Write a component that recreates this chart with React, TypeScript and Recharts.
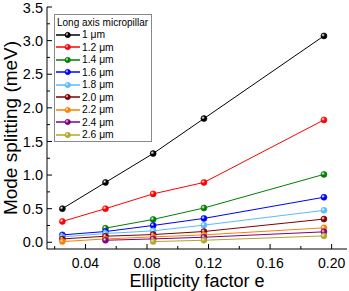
import { LineChart, Line, XAxis, YAxis, Legend } from 'recharts';

const ellipticity = [0.025, 0.053, 0.084, 0.117, 0.195];

const pillar10 = [0.5, 0.89, 1.32, 1.84, 3.07];
const pillar12 = [0.31, 0.5, 0.72, 0.89, 1.82];
const pillar14 = [null, 0.21, 0.34, 0.51, 1.01];
const pillar16 = [0.11, 0.16, 0.25, 0.355, 0.67];
const pillar18 = [0.08, 0.13, 0.17, 0.255, 0.475];
const pillar20 = [0.05, 0.09, 0.115, 0.16, 0.345];
const pillar22 = [0.01, 0.05, 0.08, 0.11, 0.215];
const pillar24 = [null, 0.03, 0.05, 0.075, 0.155];
const pillar26 = [null, null, 0.01, 0.03, 0.095];

const seriesNames = ['1 μm', '1.2 μm', '1.4 μm', '1.6 μm', '1.8 μm', '2.0 μm', '2.2 μm', '2.4 μm', '2.6 μm'];
const seriesColors = ['#000000', '#ff0000', '#008000', '#0000ff', '#5abaff', '#800000', '#ff8000', '#800080', '#b3a62a'];

const xTicks = [0.02, 0.04, 0.06, 0.08, 0.1, 0.12, 0.14, 0.16, 0.18, 0.2];
const yTicks = [0, 0.25, 0.5, 0.75, 1, 1.25, 1.5, 1.75, 2, 2.25, 2.5, 2.75, 3, 3.25, 3.5];

const allSeries = [pillar10, pillar12, pillar14, pillar16, pillar18, pillar20, pillar22, pillar24, pillar26];

const rows = ellipticity.map((e, i) => {
  const row: Record<string, number | null> = { e };
  allSeries.forEach((s, k) => {
    row[`s${k}`] = s[i];
  });
  return row;
});

const FONT = '"Liberation Sans", Arial, sans-serif';

const isMajor = (v: number, step: number) => Math.abs(v / step - Math.round(v / step)) < 1e-6;

const BottomTick = (props: any) => {
  const { x, y, payload } = props;
  const axisY = y - 8;
  const major = isMajor(payload.value, 0.04);
  return (
    <g>
      <line x1={x} x2={x} y1={axisY} y2={axisY - (major ? 5 : 3)} stroke="#000" />
      {major && (
        <text x={x} y={axisY + 19} textAnchor="middle" fontSize={14} fontFamily={FONT} fill="#000">
          {payload.value.toFixed(2)}
        </text>
      )}
    </g>
  );
};

const TopTick = (props: any) => {
  const { x, y, payload } = props;
  const major = isMajor(payload.value, 0.04);
  return <line x1={x} x2={x} y1={y} y2={y + (major ? 5 : 3)} stroke="#000" />;
};

const LeftTick = (props: any) => {
  const { x, y, payload } = props;
  const axisX = x + 4;
  const major = isMajor(payload.value, 0.5);
  // the top label sits right at the frame edge, nudge it down a touch
  const shift = payload.value >= 3.5 ? 1 : 0;
  return (
    <g>
      <line x1={axisX} x2={axisX + (major ? 5 : 3)} y1={y} y2={y} stroke="#000" />
      {major && (
        <text x={x} y={y + shift} dy="0.36em" textAnchor="end" fontSize={14.5} fontFamily={FONT} fill="#000">
          {payload.value.toFixed(1)}
        </text>
      )}
    </g>
  );
};

const RightTick = (props: any) => {
  const { x, y, payload } = props;
  const major = isMajor(payload.value, 0.5);
  return <line x1={x} x2={x - (major ? 5 : 3)} y1={y} y2={y} stroke="#000" />;
};

const makeDot = (k: number) => (props: any) => {
  const { cx, cy, index } = props;
  if (cx == null || cy == null || props.value == null) return <g key={`d${k}-${index}`} />;
  return (
    <circle
      key={`d${k}-${index}`}
      cx={cx}
      cy={cy}
      r={3}
      fill={`url(#ball${k})`}
      stroke={seriesColors[k]}
      strokeWidth={0.6}
    />
  );
};

const LegendBox = () => (
  <div
    style={{
      position: 'relative',
      width: 98,
      height: 128,
      boxSizing: 'border-box',
      border: '1px solid #8a8a8a',
      background: '#fff',
      fontFamily: FONT,
      color: '#000',
    }}
  >
    <div style={{ position: 'absolute', left: 2, top: 2, fontSize: 10, lineHeight: '12px', whiteSpace: 'nowrap' }}>
      Long axis micropillar
    </div>
    {seriesNames.map((name, k) => (
      <div
        key={name}
        style={{ position: 'absolute', left: 0, top: 13.5 + 12.5 * k, height: 12.5, display: 'flex', alignItems: 'center' }}
      >
        <svg width={26} height={12} style={{ display: 'block' }}>
          <line x1={1} x2={25} y1={6} y2={6} stroke={seriesColors[k]} strokeWidth={1.5} />
          <circle cx={12.7} cy={6} r={2.7} fill={`url(#ball${k})`} stroke={seriesColors[k]} strokeWidth={0.6} />
        </svg>
        <span style={{ fontSize: 10.3, marginLeft: 1, whiteSpace: 'nowrap' }}>{name}</span>
      </div>
    ))}
  </div>
);

export default function App() {
  return (
    <div style={{ position: 'fixed', left: 0, top: 0, width: 349, height: 291, background: '#fff' }}>
      <LineChart width={349} height={291} data={rows} margin={{ top: 7, right: 2, bottom: 0, left: 0 }}>
        <defs>
          {seriesColors.map((c, k) => (
            <radialGradient key={c} id={`ball${k}`} cx="0.35" cy="0.35" r="0.7">
              <stop offset="0%" stopColor="#ffffff" stopOpacity={0.85} />
              <stop offset="45%" stopColor={c} />
              <stop offset="100%" stopColor={c} />
            </radialGradient>
          ))}
        </defs>
        <XAxis
          dataKey="e"
          type="number"
          domain={[0.015, 0.21]}
          ticks={xTicks}
          interval={0}
          allowDataOverflow
          height={42}
          tickSize={0}
          tickMargin={8}
          tickLine={false}
          tick={<BottomTick />}
          axisLine={{ stroke: '#000' }}
          label={{
            value: 'Ellipticity factor e',
            position: 'insideBottom',
            offset: 4,
            style: { fontSize: 18, fontFamily: FONT, fill: '#000' },
          }}
        />
        <XAxis
          xAxisId="top"
          dataKey="e"
          type="number"
          orientation="top"
          domain={[0.015, 0.21]}
          ticks={xTicks}
          interval={0}
          allowDataOverflow
          height={0}
          tickSize={0}
          tickMargin={0}
          tickLine={false}
          tick={<TopTick />}
          axisLine={{ stroke: '#000' }}
        />
        <YAxis
          type="number"
          domain={[-0.1, 3.5]}
          ticks={yTicks}
          interval={0}
          allowDataOverflow
          width={47}
          tickSize={0}
          tickMargin={4}
          tickLine={false}
          tick={<LeftTick />}
          axisLine={{ stroke: '#000' }}
          label={{
            value: 'Mode splitting (meV)',
            angle: -90,
            position: 'insideLeft',
            offset: 10,
            style: { fontSize: 19, fontFamily: FONT, fill: '#000', textAnchor: 'middle' },
          }}
        />
        <YAxis
          yAxisId="right"
          orientation="right"
          type="number"
          domain={[-0.1, 3.5]}
          ticks={yTicks}
          interval={0}
          allowDataOverflow
          width={0}
          tickSize={0}
          tickMargin={0}
          tickLine={false}
          tick={<RightTick />}
          axisLine={{ stroke: '#000' }}
        />
        <Legend
          layout="vertical"
          align="center"
          verticalAlign="middle"
          wrapperStyle={{ left: 54, top: 14, width: 'auto', height: 'auto' }}
          content={<LegendBox />}
        />
        {seriesNames.map((name, k) => (
          <Line
            key={name}
            name={name}
            dataKey={`s${k}`}
            stroke={seriesColors[k]}
            strokeWidth={1}
            dot={makeDot(k)}
            activeDot={false}
            isAnimationActive={false}
          />
        ))}
      </LineChart>
    </div>
  );
}
